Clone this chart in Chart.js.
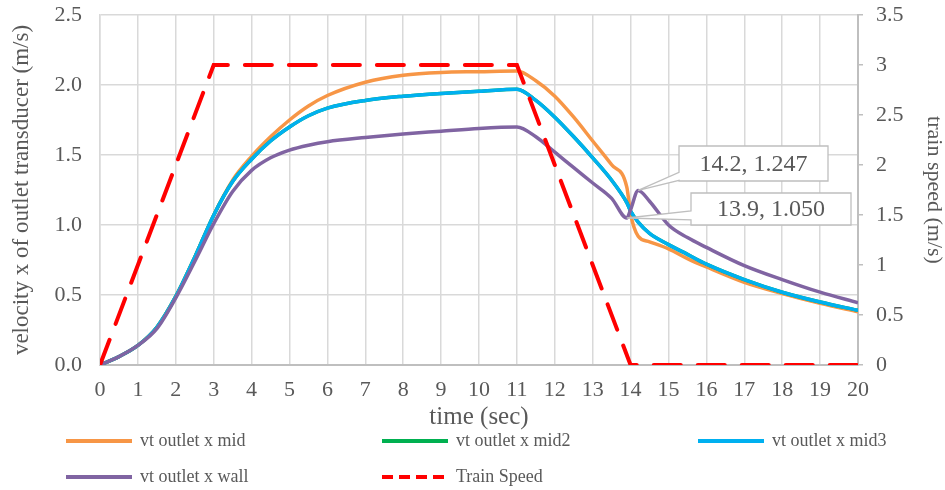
<!DOCTYPE html>
<html><head><meta charset="utf-8">
<script src="https://cdn.jsdelivr.net/npm/chart.js@4"></script>
<style>html,body{margin:0;padding:0;background:#fff}#wrap{width:945px;height:490px}</style>
</head><body><div id="wrap"><canvas id="c" width="945" height="490"></canvas></div>
<script>
// ---- data ----
const time    = [0,0.5,1,1.5,2,2.5,3,3.5,4,4.5,5,5.5,6,7,8,9,10,11,11.5,12,12.5,13,13.5,13.9,14,14.2,14.5,15,15.5,16,17,18,19,20];
const vtMid   = [0,0.06,0.14,0.27,0.49,0.77,1.07,1.32,1.49,1.63,1.75,1.85,1.925,2.02,2.07,2.09,2.095,2.10,2.03,1.92,1.77,1.60,1.43,1.27,1.08,0.92,0.88,0.83,0.76,0.70,0.59,0.51,0.44,0.38];
const vtMid2  = [0,0.06,0.14,0.27,0.49,0.77,1.07,1.31,1.47,1.60,1.70,1.78,1.835,1.89,1.92,1.94,1.955,1.97,1.89,1.77,1.63,1.48,1.32,1.16,1.10,1.02,0.94,0.86,0.79,0.72,0.61,0.52,0.45,0.39];
const vtMid3  = [0,0.06,0.14,0.27,0.49,0.77,1.07,1.31,1.47,1.60,1.70,1.78,1.835,1.89,1.92,1.94,1.955,1.97,1.89,1.77,1.63,1.48,1.32,1.16,1.10,1.02,0.94,0.86,0.79,0.72,0.61,0.52,0.45,0.39];
const vtWall  = [0,0.06,0.14,0.26,0.48,0.74,1.01,1.24,1.39,1.48,1.535,1.57,1.595,1.625,1.65,1.67,1.69,1.70,1.63,1.52,1.41,1.30,1.19,1.05,1.11,1.247,1.17,1.00,0.91,0.84,0.71,0.61,0.52,0.445];
const trainTime  = [0,3,11,14,20];
const trainSpeed = [0,3,3,0,0];
const seriesLabels = ['vt outlet x mid','vt outlet x mid2','vt outlet x mid3','vt outlet x wall','Train Speed'];
const calloutX = [14.2, 13.9];
const calloutY = [1.247, 1.050];

const pts = (xs, ys) => xs.map((x, i) => ({x: x, y: ys[i]}));
const FONT = '"Liberation Serif", "Times New Roman", serif';
const TXT = '#595959';
Chart.defaults.font.family = FONT;
Chart.defaults.color = TXT;

const calloutBoxes = [
  {x: 679, y: 146, w: 149, h: 35, b0: 0.75, b1: 0.98},
  {x: 691, y: 193, w: 160, h: 32, b0: 0.56, b1: 0.84}
];

const calloutPlugin = {
  id: 'callouts',
  afterDatasetsDraw(chart) {
    const ctx = chart.ctx, xs = chart.scales.x, ys = chart.scales.y;
    ctx.save();
    calloutX.forEach((cx, i) => {
      const px = xs.getPixelForValue(cx), py = ys.getPixelForValue(calloutY[i]);
      const b = calloutBoxes[i];
      ctx.beginPath();
      ctx.moveTo(b.x, b.y);
      ctx.lineTo(b.x + b.w, b.y);
      ctx.lineTo(b.x + b.w, b.y + b.h);
      ctx.lineTo(b.x, b.y + b.h);
      ctx.lineTo(b.x, b.y + b.h * b.b1);
      ctx.lineTo(px, py);
      ctx.lineTo(b.x, b.y + b.h * b.b0);
      ctx.closePath();
      ctx.fillStyle = '#ffffff';
      ctx.fill();
      ctx.strokeStyle = '#bfbfbf';
      ctx.lineWidth = 1.3;
      ctx.stroke();
      ctx.fillStyle = TXT;
      ctx.font = '24px ' + FONT;
      ctx.textAlign = 'center';
      ctx.textBaseline = 'middle';
      ctx.fillText(cx.toFixed(1) + ', ' + calloutY[i].toFixed(3), b.x + b.w / 2, b.y + b.h / 2 + 1);
    });
    ctx.restore();
  }
};

const legendPlugin = {
  id: 'gridLegend',
  afterDraw(chart) {
    const ctx = chart.ctx;
    const cols = [66, 382, 698], rows = [441, 477];
    ctx.save();
    chart.data.datasets.forEach((ds, i) => {
      const x = cols[i % 3], y = rows[Math.floor(i / 3)];
      ctx.strokeStyle = ds.borderColor;
      ctx.lineWidth = 4;
      ctx.lineCap = 'butt';
      ctx.setLineDash(ds.borderDash && ds.borderDash.length ? [11, 6] : []);
      ctx.beginPath(); ctx.moveTo(x, y); ctx.lineTo(x + 66, y); ctx.stroke();
      ctx.setLineDash([]);
      ctx.fillStyle = TXT;
      ctx.font = '18px ' + FONT;
      ctx.textAlign = 'left';
      ctx.textBaseline = 'middle';
      ctx.fillText(ds.label, x + 74, y);
    });
    ctx.restore();
  }
};

const lineDs = (label, data, color, order) => ({
  label, data, borderColor: color, backgroundColor: color, borderWidth: 3.5,
  pointRadius: 0, cubicInterpolationMode: 'monotone', fill: false, yAxisID: 'y', order
});

const noPadV = s => { s.paddingTop = 0; s.paddingBottom = 0; };

new Chart(document.getElementById('c'), {
  type: 'line',
  data: {
    datasets: [
      lineDs(seriesLabels[0], pts(time, vtMid), '#F79646', 5),
      lineDs(seriesLabels[1], pts(time, vtMid2), '#00B050', 4),
      lineDs(seriesLabels[2], pts(time, vtMid3), '#00B0F0', 3),
      lineDs(seriesLabels[3], pts(time, vtWall), '#8064A2', 2),
      {label: seriesLabels[4], data: pts(trainTime, trainSpeed), borderColor: '#FF0000', backgroundColor: '#FF0000',
       borderWidth: 4, borderDash: [27, 17], borderCapStyle: 'round', pointRadius: 0, tension: 0, fill: false, yAxisID: 'y1', order: 1}
    ]
  },
  options: {
    responsive: false, animation: false, devicePixelRatio: 1,
    layout: {padding: {top: 15, bottom: 60, left: 0, right: 0}},
    plugins: {legend: {display: false}, tooltip: {enabled: false}},
    scales: {
      x: {
        type: 'linear', min: 0, max: 20,
        afterFit(s) { s.height = 65; s.paddingLeft = 0; s.paddingRight = 0; },
        ticks: {stepSize: 1, color: TXT, font: {family: FONT, size: 22}, padding: 12, maxRotation: 0, autoSkip: false},
        grid: {color: '#d9d9d9', lineWidth: 1.5, drawTicks: false},
        border: {color: '#bfbfbf', width: 2},
        title: {display: true, text: 'time (sec)', color: TXT, font: {family: FONT, size: 25, lineHeight: 1}, padding: {top: 0, bottom: 0.5}}
      },
      y: {
        position: 'left', min: 0, max: 2.5,
        afterFit(s) { s.width = 100; noPadV(s); },
        ticks: {stepSize: 0.5, color: TXT, font: {family: FONT, size: 22}, padding: 18, callback: v => Number(v).toFixed(1)},
        grid: {color: '#d9d9d9', lineWidth: 1.5, drawTicks: false},
        border: {color: '#d9d9d9', width: 1.5},
        title: {display: true, text: 'velocity x of outlet transducer (m/s)', color: TXT, font: {family: FONT, size: 23, lineHeight: 1}, padding: {top: 10, bottom: 0}}
      },
      y1: {
        position: 'right', min: 0, max: 3.5,
        afterFit(s) { s.width = 87; noPadV(s); },
        ticks: {stepSize: 0.5, color: TXT, font: {family: FONT, size: 22}, padding: 13, callback: v => String(Number(Number(v).toFixed(1)))},
        grid: {drawOnChartArea: false, drawTicks: true, tickLength: 5, color: '#bfbfbf', lineWidth: 1.5},
        border: {color: '#bfbfbf', width: 2},
        title: {display: true, text: 'train speed (m/s)', color: TXT, font: {family: FONT, size: 22, lineHeight: 1}, padding: {top: 0, bottom: 0}}
      }
    }
  },
  plugins: [calloutPlugin, legendPlugin]
});
</script>
</body></html>
